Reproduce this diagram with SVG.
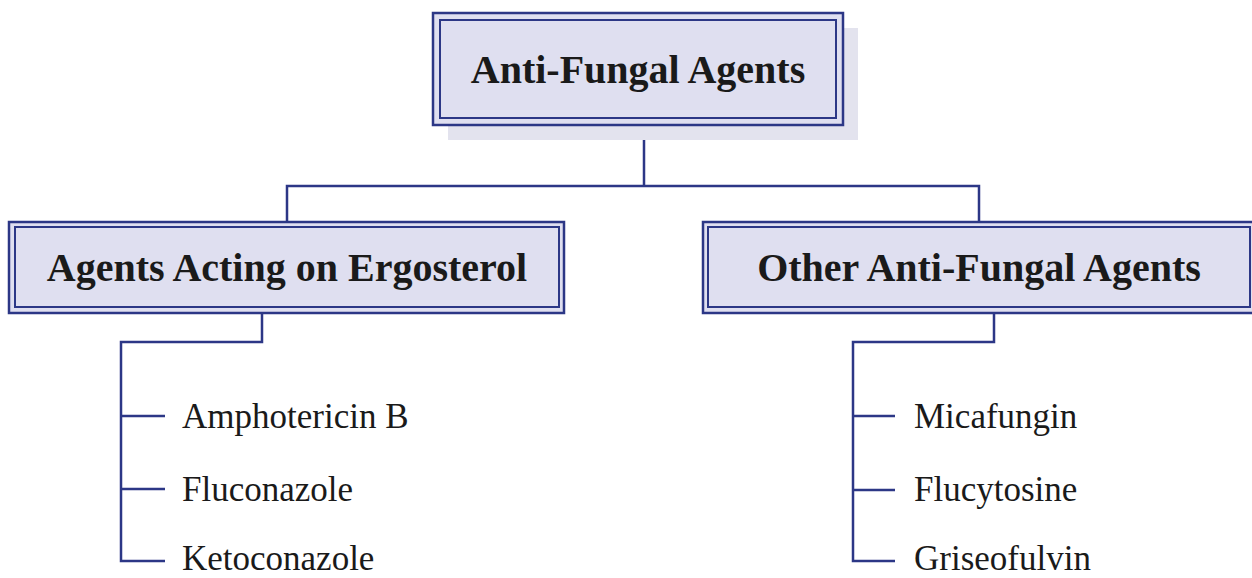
<svg xmlns="http://www.w3.org/2000/svg" width="1252" height="578" viewBox="0 0 1252 578">
<style>
.outer{fill:#dfdff0;stroke:#2c3786;stroke-width:2.5}
.inner{fill:#dfdff0;stroke:#2c3786;stroke-width:2}
.shadow{fill:#e3e3ee;stroke:none}
.head{font-family:"Liberation Serif","Times New Roman",serif;font-weight:bold;font-size:40px;fill:#1a1a1a;text-anchor:middle}
.leaf{font-family:"Liberation Serif","Times New Roman",serif;font-size:35px;fill:#1a1a1a}
.conn{fill:none;stroke:#2c3786;stroke-width:2.5}
</style>
<rect width="1252" height="578" fill="#ffffff"/>
<g id="connectors">
<path class="conn" d="M644 125 V186 M287 222 V186 H979 V222"/>
<path class="conn" d="M262 313 V342 H121 V561 H165 M121 416 H165 M121 489 H165"/>
<path class="conn" d="M994 313 V342 H853 V561 H895 M853 416 H895 M853 490 H895"/>
</g>
<g id="root">
<rect class="shadow" x="448" y="28" width="410" height="112"/>
<rect class="outer" x="433" y="13" width="410" height="112"/>
<rect class="inner" x="440" y="20" width="396" height="98"/>
<text class="head" x="638" y="83">Anti-Fungal Agents</text>
</g>
<g id="ergosterol">
<rect class="outer" x="9" y="222" width="555" height="91"/>
<rect class="inner" x="15" y="227" width="544" height="80"/>
<text class="head" x="287" y="281">Agents Acting on Ergosterol</text>
</g>
<g id="other">
<rect class="outer" x="703" y="222" width="552" height="91"/>
<rect class="inner" x="708" y="227" width="542" height="80"/>
<text class="head" x="979" y="281">Other Anti-Fungal Agents</text>
</g>
<g id="amphotericin"><text class="leaf" x="182" y="428">Amphotericin B</text></g>
<g id="fluconazole"><text class="leaf" x="182" y="501">Fluconazole</text></g>
<g id="ketoconazole"><text class="leaf" x="182" y="570">Ketoconazole</text></g>
<g id="micafungin"><text class="leaf" x="914" y="428">Micafungin</text></g>
<g id="flucytosine"><text class="leaf" x="914" y="501">Flucytosine</text></g>
<g id="griseofulvin"><text class="leaf" x="914" y="570">Griseofulvin</text></g>
</svg>
